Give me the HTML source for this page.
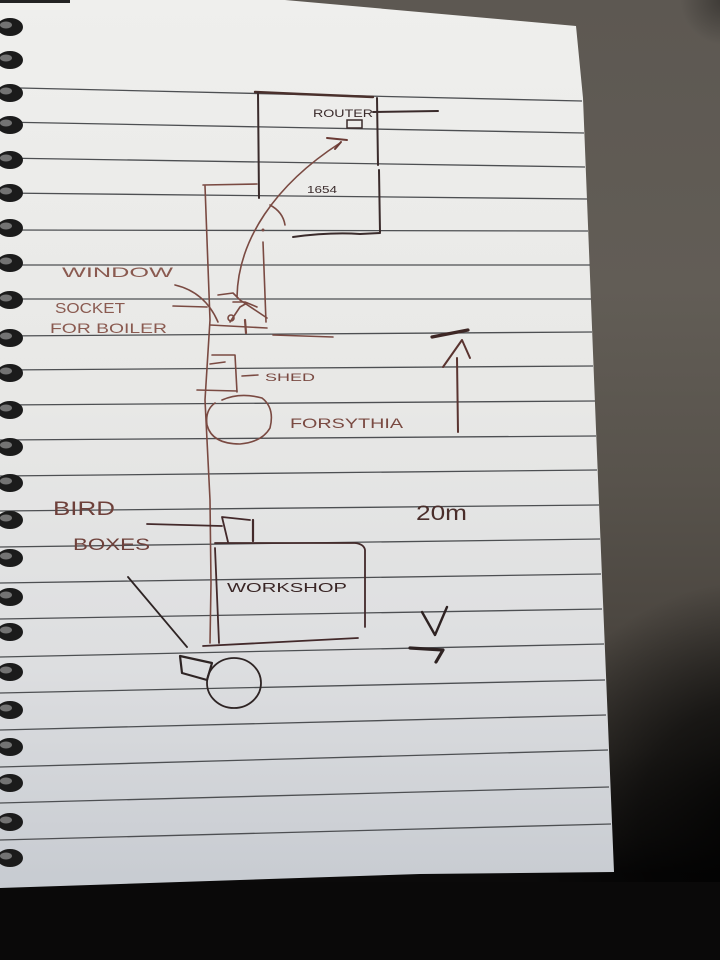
<!DOCTYPE html>
<html>
<head>
<meta charset="utf-8">
<style>
html,body{margin:0;padding:0;background:#0a0909;}
svg{display:block;}
text{font-family:"Liberation Sans",sans-serif;}
</style>
</head>
<body>
<svg width="720" height="960" viewBox="0 0 720 960" xmlns="http://www.w3.org/2000/svg">
<defs>
<linearGradient id="leather" x1="0" y1="0" x2="0" y2="1">
<stop offset="0" stop-color="#5d5852"/>
<stop offset="0.3" stop-color="#625d56"/>
<stop offset="0.5" stop-color="#58534c"/>
<stop offset="0.65" stop-color="#4c4741"/>
<stop offset="0.78" stop-color="#3a3631"/>
<stop offset="0.87" stop-color="#1c1a18"/>
<stop offset="0.91" stop-color="#0b0a0a"/>
<stop offset="1" stop-color="#080808"/>
</linearGradient>
<radialGradient id="dark" gradientUnits="userSpaceOnUse" cx="760" cy="820" r="240">
<stop offset="0" stop-color="#000" stop-opacity="0.9"/>
<stop offset="0.5" stop-color="#000" stop-opacity="0.6"/>
<stop offset="1" stop-color="#000" stop-opacity="0"/>
</radialGradient>
<radialGradient id="darkTop" gradientUnits="userSpaceOnUse" cx="725" cy="0" r="45">
<stop offset="0" stop-color="#000" stop-opacity="0.35"/>
<stop offset="1" stop-color="#000" stop-opacity="0"/>
</radialGradient>
<linearGradient id="paper" x1="0" y1="0" x2="0" y2="1">
<stop offset="0" stop-color="#efefed"/>
<stop offset="0.45" stop-color="#e8e8e6"/>
<stop offset="0.75" stop-color="#dddee0"/>
<stop offset="1" stop-color="#c7cbd1"/>
</linearGradient>
</defs>

<!-- background -->
<rect x="0" y="0" width="720" height="960" fill="url(#leather)"/>
<rect x="0" y="0" width="720" height="960" fill="url(#dark)"/>
<rect x="0" y="0" width="720" height="960" fill="url(#darkTop)"/>
<rect x="0" y="882" width="720" height="78" fill="#0a0909"/>

<!-- paper -->
<polygon points="0,0 285,0 576,26 583,98 596,429 614,872 420,874 0,888" fill="url(#paper)"/>
<rect x="0" y="0" width="70" height="3" fill="#222"/>

<!-- ruled lines -->
<g stroke="#4d4f52" stroke-width="1.3" fill="none">
<line x1="20" y1="88" x2="582" y2="101"/>
<line x1="0" y1="122" x2="584" y2="133"/>
<line x1="0" y1="158" x2="585" y2="167"/>
<line x1="0" y1="193" x2="587" y2="199"/>
<line x1="0" y1="230" x2="588" y2="231"/>
<line x1="0" y1="265" x2="590" y2="265"/>
<line x1="0" y1="299" x2="591" y2="299"/>
<line x1="0" y1="336" x2="592" y2="332"/>
<line x1="0" y1="370" x2="593" y2="366"/>
<line x1="0" y1="405" x2="595" y2="401"/>
<line x1="0" y1="440" x2="596" y2="436"/>
<line x1="0" y1="476" x2="597" y2="470"/>
<line x1="0" y1="511" x2="599" y2="505"/>
<line x1="0" y1="547" x2="600" y2="539"/>
<line x1="0" y1="583" x2="601" y2="574"/>
<line x1="0" y1="619" x2="602" y2="609"/>
<line x1="0" y1="657" x2="604" y2="644"/>
<line x1="0" y1="693" x2="605" y2="680"/>
<line x1="0" y1="730" x2="606" y2="715"/>
<line x1="0" y1="767" x2="608" y2="750"/>
<line x1="0" y1="803" x2="609" y2="787"/>
<line x1="0" y1="840" x2="611" y2="824"/>
</g>

<!-- spiral rings -->
<g>
<g id="ring">
<ellipse cx="10" cy="27" rx="13" ry="9" fill="#1b1b1b"/>
<ellipse cx="6" cy="25" rx="6" ry="3.5" fill="#8a8a8a" opacity="0.8"/>
</g>
<use href="#ring" y="33"/>
<use href="#ring" y="66"/>
<use href="#ring" y="98"/>
<use href="#ring" y="133"/>
<use href="#ring" y="166"/>
<use href="#ring" y="201"/>
<use href="#ring" y="236"/>
<use href="#ring" y="273"/>
<use href="#ring" y="311"/>
<use href="#ring" y="346"/>
<use href="#ring" y="383"/>
<use href="#ring" y="420"/>
<use href="#ring" y="456"/>
<use href="#ring" y="493"/>
<use href="#ring" y="531"/>
<use href="#ring" y="570"/>
<use href="#ring" y="605"/>
<use href="#ring" y="645"/>
<use href="#ring" y="683"/>
<use href="#ring" y="720"/>
<use href="#ring" y="756"/>
<use href="#ring" y="795"/>
<use href="#ring" y="831"/>
</g>

<!-- HOUSE (dark ink) -->
<g stroke="#3a2b2b" stroke-width="2" fill="none" stroke-linecap="round">
<path d="M255,92 L300,94 L373,97" stroke="#4a302c" stroke-width="2.4"/>
<path d="M258,93 L259,198"/>
<path d="M377,98 L378,165 M379,170 L380,232"/>
<path d="M293,237 Q330,232 360,234 L380,233"/>
<path d="M373,112 L438,111"/>
<rect x="347" y="120" width="15" height="8" stroke-width="1.5"/>
</g>
<text x="313" y="117" font-size="11" fill="#3a2b2b" textLength="60" lengthAdjust="spacingAndGlyphs">ROUTER</text>
<text x="307" y="193" font-size="10" fill="#3a2b2b" textLength="30" lengthAdjust="spacingAndGlyphs">1654</text>

<!-- brown ink drawing -->
<g stroke="#7a4a42" stroke-width="1.6" fill="none" stroke-linecap="round" stroke-linejoin="round">
<path d="M203,185 L257,184"/>
<path d="M205,186 L207,240 L210,320 L205,400 L210,500 L211,583 L210,643"/>
<path d="M263,242 L266,322"/>
<path d="M237,297 C238,240 275,185 340,143"/>
<path d="M327,138 L347,140 M341,142 L335,149" stroke="#6a3a34" stroke-width="2"/>
<path d="M270,205 Q283,212 285,225"/>
<path d="M175,285 Q205,292 218,322"/>
<path d="M173,306 L207,307"/>
<path d="M218,295 L233,293 L240,300 L267,318"/>
<path d="M233,302 L245,302 L257,307"/>
<path d="M230,322 L240,307 L247,303"/>
<path d="M210,325 L267,328"/>
<path d="M245,320 L246,333" stroke-width="2.2"/>
<circle cx="231" cy="318" r="3"/>
<path d="M273,335 L333,337"/>
<!-- shed -->
<path d="M212,355 L235,355 L237,392"/>
<path d="M197,390 L237,391"/>
<path d="M210,364 L225,362"/>
<path d="M242,376 L258,375"/>
<!-- forsythia -->
<path d="M222,400 Q240,392 262,398 Q275,408 270,428 Q262,442 240,444 Q212,444 207,425 Q205,410 215,403"/>
</g>
<circle cx="263" cy="230" r="1.5" fill="#7a4a42"/>

<text x="265" y="381" font-size="11" fill="#7a4a42" textLength="50" lengthAdjust="spacingAndGlyphs">SHED</text>
<text x="290" y="428" font-size="14" fill="#7a4a42" textLength="113" lengthAdjust="spacingAndGlyphs">FORSYTHIA</text>
<text x="62" y="277" font-size="14" fill="#8a5a50" textLength="111" lengthAdjust="spacingAndGlyphs">WINDOW</text>
<text x="55" y="313" font-size="15" fill="#8a5a50" textLength="70" lengthAdjust="spacingAndGlyphs">SOCKET</text>
<text x="50" y="333" font-size="14" fill="#8a5a50" textLength="117" lengthAdjust="spacingAndGlyphs">FOR BOILER</text>
<text x="53" y="515" font-size="19" fill="#6e403a" textLength="62" lengthAdjust="spacingAndGlyphs">BIRD</text>
<text x="73" y="550" font-size="17" fill="#6e403a" textLength="77" lengthAdjust="spacingAndGlyphs">BOXES</text>

<!-- right arrow & 20m -->
<g stroke="#5a3430" stroke-width="2" fill="none" stroke-linecap="round" stroke-linejoin="round">
<path d="M458,432 L457,358"/>
<path d="M443,367 L462,340 L470,358"/>
<path d="M432,337 L468,330" stroke-width="3.2" stroke="#3e2725"/>
</g>
<text x="416" y="520" font-size="21" fill="#4a2e2b" textLength="51" lengthAdjust="spacingAndGlyphs">20m</text>
<g stroke="#2e2222" stroke-width="2.4" fill="none" stroke-linecap="round" stroke-linejoin="round">
<path d="M422,612 L435,635 L447,607"/>
<path d="M410,648 L443,650 L436,662" stroke-width="3.2"/>
</g>

<!-- workshop / bird boxes (dark brown) -->
<g stroke="#43292a" stroke-width="1.8" fill="none" stroke-linecap="round" stroke-linejoin="round">
<path d="M147,524 L222,526"/>
<path d="M228,542 L222,517 L250,520"/>
<path d="M253,520 L253,541" stroke-width="2.2"/>
<path d="M215,543 L355,543 Q364,544 365,550 L365,627"/>
<path d="M215,548 L219,643"/>
<path d="M203,646 L358,638"/>
<path d="M128,577 L187,647" stroke="#2e2424"/>
<path d="M180,656 L212,663 L207,680 L182,673 Z" stroke="#2e2424" stroke-width="2.2"/>
<ellipse cx="234" cy="683" rx="27" ry="25" stroke="#2e2424"/>
</g>
<text x="227" y="592" font-size="13" fill="#3a2626" textLength="120" lengthAdjust="spacingAndGlyphs">WORKSHOP</text>
</svg>
</body>
</html>
